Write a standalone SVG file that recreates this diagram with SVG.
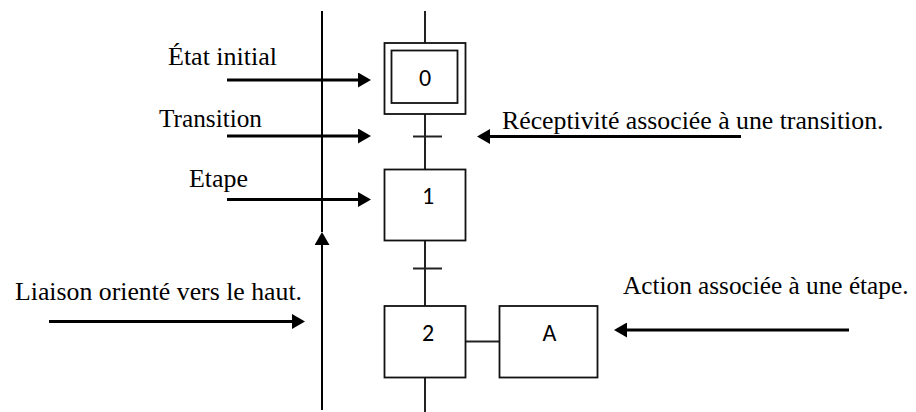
<svg xmlns="http://www.w3.org/2000/svg" width="916" height="412" viewBox="0 0 916 412">
  <style>
    .label { font-family: "Liberation Serif", "Times New Roman", serif; font-size: 26px; fill: #000; }
    .num { font-family: "Carlito", "Liberation Sans", Arial, sans-serif; font-size: 24px; fill: #000; text-anchor: middle; }
    .box { fill: #fff; stroke: #111; stroke-width: 1.8; }
    .link { fill: none; stroke: #222; stroke-width: 2; }
    .pointer { fill: none; stroke: #000; stroke-width: 3; }
    .axis { fill: none; stroke: #000; stroke-width: 2; }
  </style>
  <defs>
    <marker id="head" markerUnits="userSpaceOnUse" markerWidth="13" markerHeight="15" refX="0" refY="7.5" orient="auto">
      <path d="M0,0 L13,7.5 L0,15 z" fill="#000"/>
    </marker>
  </defs>

  <rect width="916" height="412" fill="#fff"/>

  <!-- connectors: grafcet links, transitions, upward liaison and pointer arrows -->
  <g id="connectors">
    <path class="link" d="M425,11 V43"/>
    <path class="link" d="M425,114 V169"/>
    <path class="link" d="M425,241 V306"/>
    <path class="link" d="M425,378 V412"/>
    <path class="link" d="M413,136.5 H442"/>
    <path class="link" d="M413,268.5 H442"/>
    <path class="link" d="M466,341.5 H499"/>

    <path class="axis" d="M322,11 V232"/>
    <path class="axis" d="M322,410 V245" marker-end="url(#head)"/>

    <path class="pointer" d="M227,80 H358" marker-end="url(#head)"/>
    <path class="pointer" d="M227,136 H358" marker-end="url(#head)"/>
    <path class="pointer" d="M227,199.5 H358" marker-end="url(#head)"/>
    <path class="pointer" d="M49,321.5 H292" marker-end="url(#head)"/>
    <path class="pointer" d="M741,136.5 H490" marker-end="url(#head)"/>
    <path class="pointer" d="M849,330 H627" marker-end="url(#head)"/>
  </g>

  <!-- initial step -->
  <g id="step0">
    <rect class="box" x="384.5" y="43" width="81" height="71"/>
    <rect class="box" x="391.5" y="50.5" width="66" height="52.5"/>
    <text class="num" x="425" y="86">0</text>
  </g>

  <g id="step1">
    <rect class="box" x="384.5" y="169.5" width="81" height="71"/>
    <text class="num" x="428" y="203.5">1</text>
  </g>

  <g id="step2">
    <rect class="box" x="384.5" y="306" width="81" height="71.5"/>
    <text class="num" x="428" y="341">2</text>
  </g>

  <g id="actionA">
    <rect class="box" x="499.5" y="306" width="98" height="71.5"/>
    <text class="num" x="549.5" y="341">A</text>
  </g>

  <!-- annotations -->
  <g id="labels">
    <text class="label" x="168" y="65" textLength="109" lengthAdjust="spacingAndGlyphs">État initial</text>
    <text class="label" x="159" y="127" textLength="103" lengthAdjust="spacingAndGlyphs">Transition</text>
    <text class="label" x="189" y="187" textLength="59" lengthAdjust="spacingAndGlyphs">Etape</text>
    <text class="label" x="15" y="300" textLength="287" lengthAdjust="spacingAndGlyphs">Liaison orienté vers le haut.</text>
    <text class="label" x="502" y="128.5" textLength="381.5" lengthAdjust="spacingAndGlyphs">Réceptivité associée à une transition.</text>
    <text class="label" x="623" y="293.5" textLength="285.5" lengthAdjust="spacingAndGlyphs">Action associée à une étape.</text>
  </g>
</svg>
